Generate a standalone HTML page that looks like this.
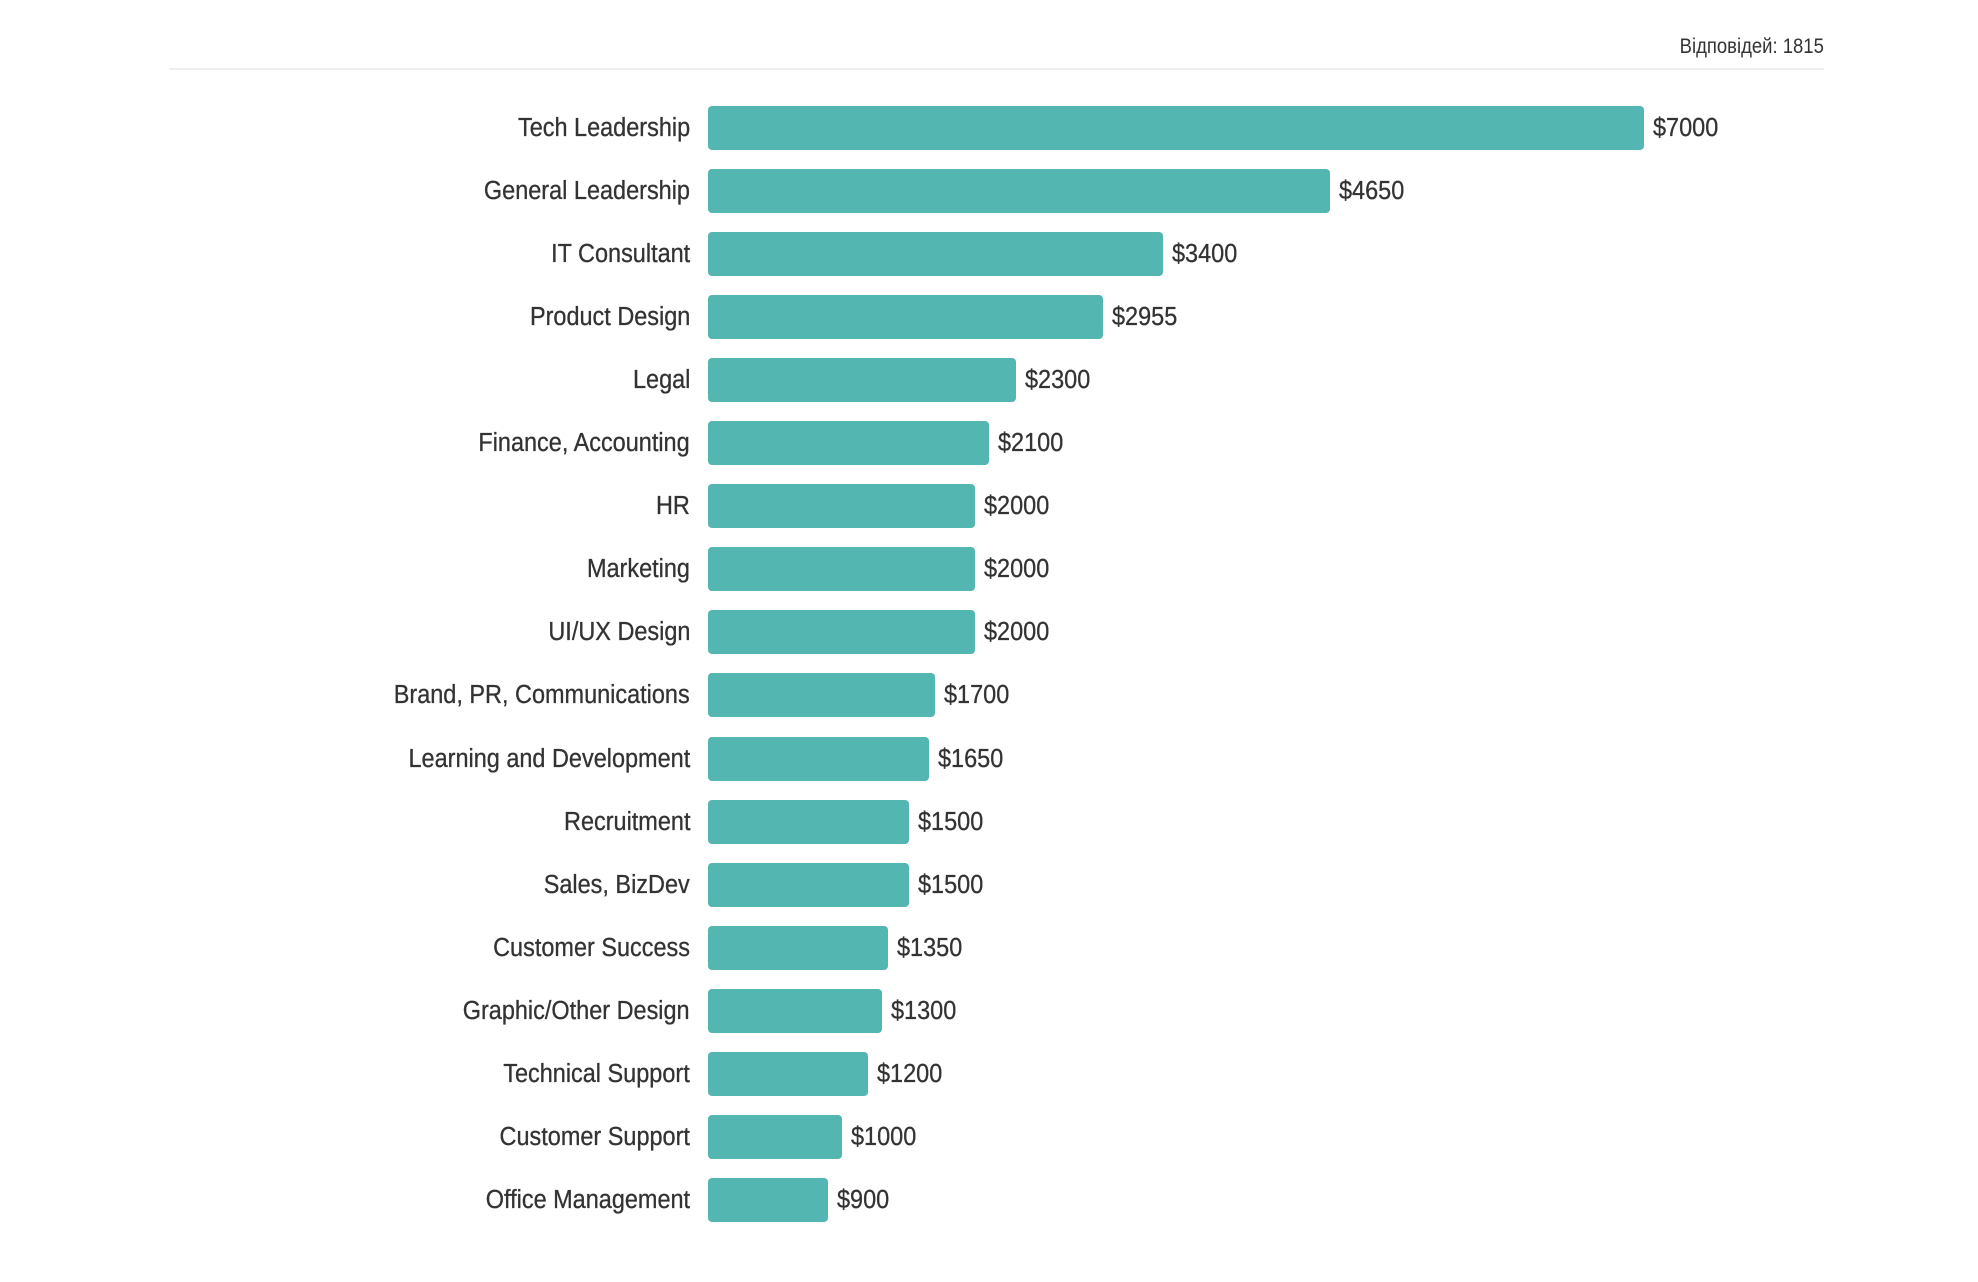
<!DOCTYPE html>
<html><head><meta charset="utf-8"><style>
body{margin:0;width:1978px;height:1282px;background:#fff;position:relative;overflow:hidden;font-family:"Liberation Sans",sans-serif;color:#333}
.hdr{position:absolute;right:154px;top:35px;font-size:21px;transform:scaleX(.88);transform-origin:right center}
.line{position:absolute;left:169px;width:1655px;top:68px;height:2px;background:#eee}
.lab{position:absolute;right:1288px;font-size:25.5px;line-height:44px;white-space:nowrap;transform:scaleX(.92);transform-origin:right center;-webkit-text-stroke:0.3px #333}
.bar{position:absolute;left:708px;height:44px;background:#53b6b1;border-radius:4px}
.val{position:absolute;font-size:25.5px;line-height:44px;white-space:nowrap;transform:scaleX(.92);transform-origin:left center;-webkit-text-stroke:0.3px #333}
</style></head><body>
<div class="hdr">Відповідей: 1815</div>
<div class="line"></div>
<div id="c"></div>
<script>
var d=[["Tech Leadership",7000],["General Leadership",4650],["IT Consultant",3400],["Product Design",2955],["Legal",2300],["Finance, Accounting",2100],["HR",2000],["Marketing",2000],["UI/UX Design",2000],["Brand, PR, Communications",1700],["Learning and Development",1650],["Recruitment",1500],["Sales, BizDev",1500],["Customer Success",1350],["Graphic/Other Design",1300],["Technical Support",1200],["Customer Support",1000],["Office Management",900]];
var h="";
d.forEach(function(r,i){var t=106+i*63.05;var w=r[1]*0.1337;
h+='<div class="lab" style="top:'+t+'px">'+r[0]+'</div>';
h+='<div class="bar" style="top:'+t+'px;width:'+w+'px"></div>';
h+='<div class="val" style="top:'+t+'px;left:'+(708+w+9)+'px">$'+r[1]+'</div>';});
document.getElementById("c").innerHTML=h;
</script>
</body></html>
